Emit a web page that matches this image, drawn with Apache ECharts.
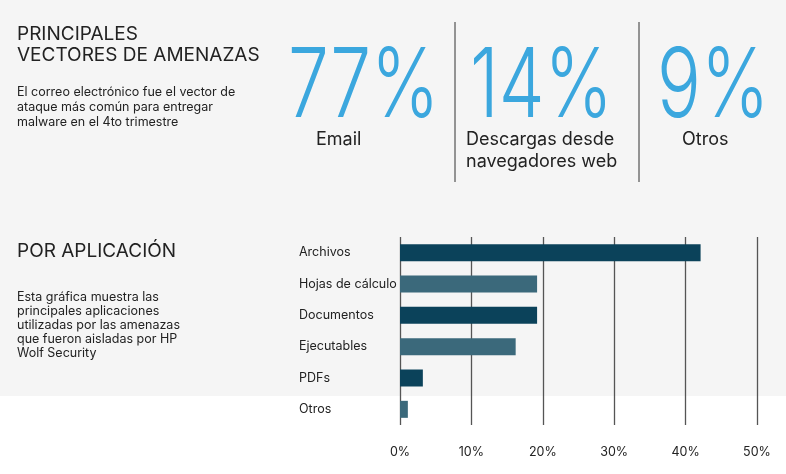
<!DOCTYPE html>
<html><head><meta charset="utf-8">
<script src="https://cdn.jsdelivr.net/npm/echarts@6/dist/echarts.min.js"></script>
<style>html,body{margin:0;padding:0;background:#fff}#c{width:786px;height:474px}</style>
</head><body><div id="c"></div>
<script>
var categories = ['Archivos', 'Hojas de cálculo', 'Documentos', 'Ejecutables', 'PDFs', 'Otros'];
var values = [42.1, 19.2, 19.2, 16.2, 3.2, 1.1];
var barColors = ['#0b425a', '#3b697b', '#0b425a', '#3b697b', '#0b425a', '#3b697b'];
var tickLabels = ['0%', '10%', '20%', '30%', '40%', '50%'];
var bigStats = [['77%', 'Email'], ['14%', 'Descargas desde\nnavegadores web'], ['9%', 'Otros']];

var chart = echarts.init(document.getElementById('c'));
var font = 'Inter, "Noto Sans", sans-serif';
var graphics = [
  {type: 'rect', shape: {x: 0, y: 0, width: 786, height: 396}, style: {fill: '#f5f5f5'}, z: -10},
  {type: 'text', left: 17, top: 24, style: {text: 'PRINCIPALES\nVECTORES DE AMENAZAS', font: '400 19px ' + font, fill: '#222', lineHeight: 21}},
  {type: 'text', left: 17, top: 85, style: {text: 'El correo electrónico fue el vector de\nataque más común para entregar\nmalware en el 4to trimestre', font: '400 12.5px ' + font, fill: '#222', lineHeight: 15}},
  {type: 'text', left: 17, top: 242, style: {text: 'POR APLICACIÓN', font: '400 19px ' + font, fill: '#222'}},
  {type: 'text', left: 17, top: 290, style: {text: 'Esta gráfica muestra las\nprincipales aplicaciones\nutilizadas por las amenazas\nque fueron aisladas por HP\nWolf Security', font: '400 12.5px ' + font, fill: '#222', lineHeight: 14}},
  {type: 'line', shape: {x1: 455, y1: 22, x2: 455, y2: 182}, style: {stroke: '#333', lineWidth: 1}},
  {type: 'line', shape: {x1: 639, y1: 22, x2: 639, y2: 182}, style: {stroke: '#333', lineWidth: 1}}
];
var statX = [288, 470, 657], labX = [316, 466, 682];
bigStats.forEach(function (s, i) {
  graphics.push({type: 'text', x: statX[i], y: 136, scaleX: 0.76,
    style: {text: s[0], font: '300 96px ' + font, fill: '#3ba7de', verticalAlign: 'bottom'}});
  graphics.push({type: 'text', left: labX[i], top: 129, style: {text: s[1], font: '400 18px ' + font, fill: '#222', lineHeight: 22}});
});

chart.setOption({
  animation: false,
  graphic: graphics,
  grid: {left: 400, right: 29, top: 237, height: 188},
  xAxis: {
    type: 'value', min: 0, max: 50, interval: 10,
    axisLine: {show: false}, axisTick: {show: false},
    splitLine: {lineStyle: {color: '#555', width: 1.3}},
    axisLabel: {margin: 21, color: '#222', fontSize: 12.5, fontFamily: font,
      formatter: function (v) { return tickLabels[v / 10]; }}
  },
  yAxis: {
    type: 'category', inverse: true, data: categories,
    axisLine: {show: false}, axisTick: {show: false},
    axisLabel: {align: 'left', margin: 101, color: '#222', fontSize: 12.5, fontFamily: font}
  },
  series: [{
    type: 'bar', barWidth: 17,
    data: values.map(function (v, i) { return {value: v, itemStyle: {color: barColors[i]}}; })
  }]
});
</script></body></html>
